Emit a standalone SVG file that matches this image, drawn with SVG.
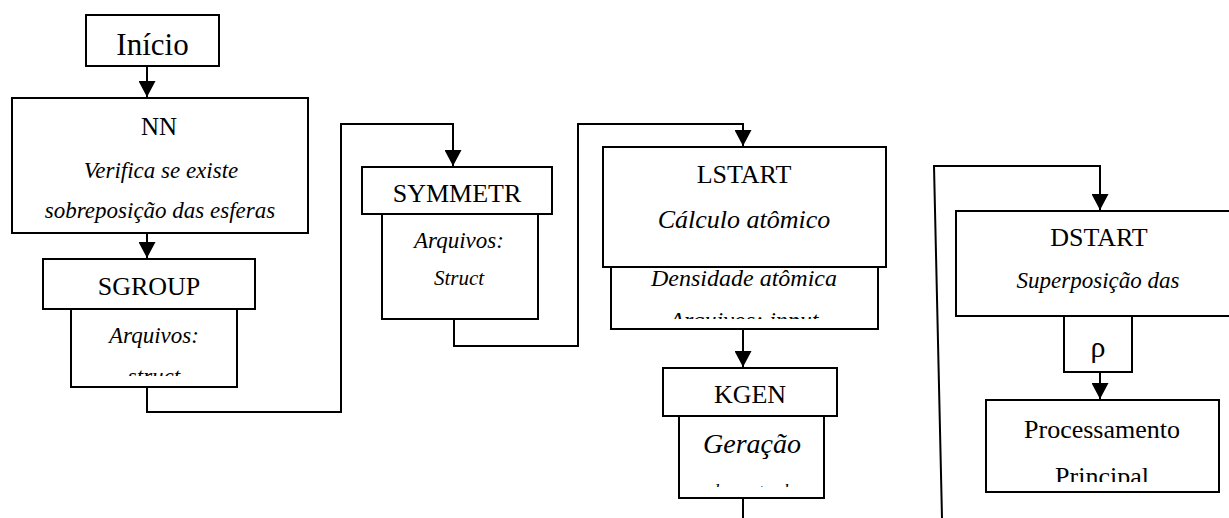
<svg xmlns="http://www.w3.org/2000/svg" width="1229" height="518" viewBox="0 0 1229 518">
<style>
.box{fill:#fff;stroke:#000;stroke-width:2}
.t{font-family:"Liberation Serif","Times New Roman",serif;fill:#000;text-anchor:middle}
.i{font-style:italic}
.c{fill:none;stroke:#000;stroke-width:2}
</style>
<defs>
<marker id="ah" markerUnits="userSpaceOnUse" markerWidth="17" markerHeight="17" refX="16" refY="8.5" orient="auto">
<path d="M0,0 L16,8.5 L0,17 Z" fill="#000"/>
</marker>
<clipPath id="cSG"><rect x="71" y="309" width="166" height="67"/></clipPath>
<clipPath id="cLS"><rect x="611" y="267" width="267" height="52"/></clipPath>
<clipPath id="cKG"><rect x="679" y="416" width="145" height="71"/></clipPath>
<clipPath id="cPR"><rect x="986" y="400" width="233" height="82"/></clipPath>
</defs>
<rect width="1229" height="518" fill="#fff"/>
<g id="connectors">
<path class="c" d="M147,66 V97" marker-end="url(#ah)"/>
<path class="c" d="M147,233 V258" marker-end="url(#ah)"/>
<path class="c" d="M147,387 V412 H341 V124 H453 V166" marker-end="url(#ah)"/>
<path class="c" d="M454,319 V346 H578 V124 H743 V146" marker-end="url(#ah)"/>
<path class="c" d="M743,329 V367" marker-end="url(#ah)"/>
<path class="c" d="M743,498 V518"/>
<path class="c" d="M942,518 L934,166 H1100 V210" marker-end="url(#ah)"/>
<path class="c" d="M1100,372 V399" marker-end="url(#ah)"/>
</g>
<g id="inicio">
<rect class="box" x="86" y="15" width="133" height="51"/>
<text class="t" x="152.5" y="55" font-size="31">Início</text>
</g>
<g id="nn">
<rect class="box" x="12" y="98" width="296" height="135"/>
<text class="t" x="159" y="135" font-size="25">NN</text>
<text class="t i" x="161" y="178" font-size="23">Verifica se existe</text>
<text class="t i" x="160" y="218" font-size="23">sobreposição das esferas</text>
</g>
<g id="sgroup">
<rect class="box" x="43" y="259" width="212" height="50"/>
<text class="t" x="149" y="295" font-size="26">SGROUP</text>
<rect class="box" x="71" y="309" width="166" height="78"/>
<g clip-path="url(#cSG)">
<text class="t i" x="154" y="343" font-size="23">Arquivos:</text>
<text class="t i" x="154" y="384" font-size="23">struct</text>
</g>
</g>
<g id="symmetr">
<rect class="box" x="362" y="167" width="190" height="47"/>
<text class="t" x="457" y="202" font-size="26">SYMMETR</text>
<rect class="box" x="382" y="214" width="156" height="105"/>
<text class="t i" x="459" y="248" font-size="23">Arquivos:</text>
<text class="t i" x="459" y="285" font-size="21">Struct</text>
</g>
<g id="lstart">
<rect class="box" x="603" y="147" width="283" height="120"/>
<text class="t" x="744" y="183" font-size="26">LSTART</text>
<text class="t i" x="744" y="228" font-size="26">Cálculo atômico</text>
<rect class="box" x="611" y="267" width="267" height="62"/>
<g clip-path="url(#cLS)">
<text class="t i" x="744" y="286" font-size="24">Densidade atômica</text>
<text class="t i" x="744" y="328" font-size="24">Arquivos: input</text>
</g>
</g>
<g id="kgen">
<rect class="box" x="663" y="368" width="174" height="48"/>
<text class="t" x="750" y="403" font-size="26">KGEN</text>
<rect class="box" x="679" y="416" width="145" height="82"/>
<g clip-path="url(#cKG)">
<text class="t i" x="752" y="453" font-size="28">Geração</text>
<text class="t i" x="751" y="497" font-size="18">de pontos k</text>
</g>
</g>
<g id="dstart">
<rect class="box" x="956" y="211" width="290" height="105"/>
<text class="t" x="1099" y="246" font-size="26">DSTART</text>
<text class="t i" x="1098" y="288" font-size="23">Superposição das</text>
</g>
<g id="rho">
<rect class="box" x="1064" y="316" width="68" height="56"/>
<text class="t" x="1098" y="357" font-size="30">ρ</text>
</g>
<g id="processamento">
<rect class="box" x="986" y="400" width="233" height="92"/>
<g clip-path="url(#cPR)">
<text class="t" x="1102" y="438" font-size="26">Processamento</text>
<text class="t" x="1102" y="485" font-size="26">Principal</text>
</g>
</g>
</svg>
